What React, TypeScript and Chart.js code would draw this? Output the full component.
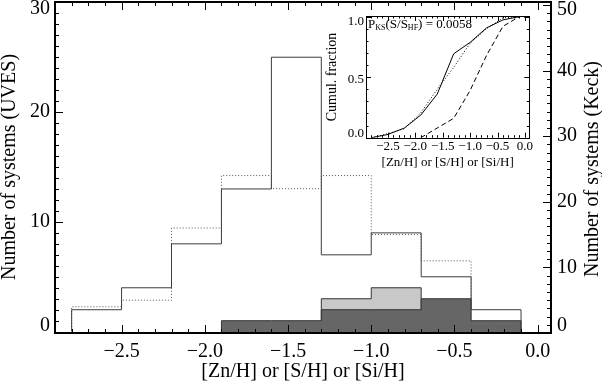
import React, { useEffect, useRef } from "react";
import { Chart, registerables } from "chart.js";
Chart.register(...registerables);

// ---- main histogram data ----
const binEdges = [-2.8, -2.5, -2.2, -1.9, -1.6, -1.3, -1.0, -0.7, -0.4, -0.1];
const uvesCounts = [2, 4, 8, 13, 25, 7, 9, 5, 2];
const keckCounts = [4, 5, 16, 24, 22, 24, 15, 11, 1];
const darkEdges = [-1.9, -1.6, -1.3, -1.0, -0.7, -0.4, -0.1];
const darkCounts = [1, 1, 2, 2, 3, 1];
const lightEdges = [-1.3, -1.0, -0.7];
const lightCounts = [3, 4];

// ---- tick labels ----
const xTickValues = [-2.5, -2.0, -1.5, -1.0, -0.5, 0.0];
const xTickLabels = ["−2.5", "−2.0", "−1.5", "−1.0", "−0.5", "0.0"];
const uvesTickValues = [0, 10, 20, 30];
const keckTickValues = [0, 10, 20, 30, 40, 50];
const insetYTickValues = [0, 0.5, 1.0];
const insetYTickLabels = ["0.0", "0.5", "1.0"];

// ---- inset cumulative fractions ----
const cumX = [-2.8, -2.5, -2.2, -1.9, -1.6, -1.3, -1.0, -0.7, -0.4, -0.1];
const cumUves = [0, 0.027, 0.08, 0.187, 0.36, 0.693, 0.787, 0.907, 0.973, 1.0];
const cumKeck = [0, 0.033, 0.074, 0.205, 0.4, 0.58, 0.78, 0.9, 0.99, 1.0];
const cumSubX = [-1.9, -1.6, -1.3, -1.0, -0.7, -0.4, -0.1];
const cumSub = [0, 0.08, 0.16, 0.39, 0.68, 0.92, 1.0];

const SERIF = '"Liberation Serif", "Times New Roman", serif';

function stepPoints(edges: number[], counts: number[]) {
  const pts = [{ x: edges[0], y: 0 }];
  counts.forEach((c, i) => pts.push({ x: edges[i], y: c }));
  pts.push({ x: edges[edges.length - 1], y: 0 });
  return pts;
}

function clamp(v: number, a: number, b: number) {
  return Math.max(a, Math.min(b, v));
}

const mainAxesPlugin = {
  id: "mainAxes",
  afterDraw(chart: any) {
    const ctx = chart.ctx;
    const { left, right, top, bottom } = chart.chartArea;
    const xs = chart.scales.x;
    const ys = chart.scales.y;
    const y2 = chart.scales.y2;
    ctx.save();
    ctx.strokeStyle = "#000";
    ctx.fillStyle = "#000";
    ctx.lineWidth = 1;
    ctx.beginPath();
    for (let k = -29; k <= 0; k++) {
      const px = Math.round(xs.getPixelForValue(k / 10)) + 0.5;
      const len = k % 5 === 0 ? 8 : 4;
      ctx.moveTo(px, bottom);
      ctx.lineTo(px, bottom - len);
      ctx.moveTo(px, top);
      ctx.lineTo(px, top + len);
    }
    for (let v = 0; v <= 30; v++) {
      const py = Math.round(ys.getPixelForValue(v)) + 0.5;
      const len = v % 10 === 0 ? 8 : 4;
      ctx.moveTo(left, py);
      ctx.lineTo(left + len, py);
    }
    for (let i = 0; i <= 40; i++) {
      const v = i * 1.25;
      const py = Math.round(y2.getPixelForValue(v)) + 0.5;
      const len = v % 10 === 0 ? 8 : 4;
      ctx.moveTo(right, py);
      ctx.lineTo(right - len, py);
    }
    ctx.stroke();
    ctx.lineWidth = 2;
    ctx.strokeRect(left, top, right - left, bottom - top);
    ctx.font = `20px ${SERIF}`;
    ctx.textBaseline = "middle";
    ctx.textAlign = "center";
    xTickValues.forEach((v, i) => {
      ctx.fillText(xTickLabels[i], xs.getPixelForValue(v), 352);
    });
    ctx.textAlign = "right";
    uvesTickValues.forEach((v) => {
      ctx.fillText(String(v), left - 5, clamp(ys.getPixelForValue(v), 9, 326));
    });
    ctx.textAlign = "left";
    keckTickValues.forEach((v) => {
      ctx.fillText(String(v), right + 6, clamp(y2.getPixelForValue(v), 10, 326));
    });
    ctx.textAlign = "center";
    ctx.fillText("[Zn/H] or [S/H] or [Si/H]", (left + right) / 2, 372);
    ctx.save();
    ctx.translate(10, 167);
    ctx.rotate(-Math.PI / 2);
    ctx.fillText("Number of systems (UVES)", 0, 0);
    ctx.restore();
    ctx.save();
    ctx.translate(593, 169);
    ctx.rotate(-Math.PI / 2);
    ctx.fillText("Number of systems (Keck)", 0, 0);
    ctx.restore();
    ctx.restore();
  },
};

const insetPlugin = {
  id: "insetAxes",
  beforeDraw(chart: any) {
    const ctx = chart.ctx;
    const { left, right, top, bottom } = chart.chartArea;
    ctx.save();
    ctx.fillStyle = "#fff";
    ctx.fillRect(left, top, right - left, bottom - top);
    ctx.restore();
  },
  afterDraw(chart: any) {
    const ctx = chart.ctx;
    const { left, right, top, bottom } = chart.chartArea;
    const xs = chart.scales.x;
    const ys = chart.scales.y;
    ctx.save();
    ctx.strokeStyle = "#000";
    ctx.fillStyle = "#000";
    ctx.lineWidth = 1;
    ctx.beginPath();
    for (let k = -29; k <= 0; k++) {
      const px = Math.round(xs.getPixelForValue(k / 10)) + 0.5;
      const len = k % 5 === 0 ? 5 : 2.5;
      ctx.moveTo(px, bottom);
      ctx.lineTo(px, bottom - len);
      ctx.moveTo(px, top);
      ctx.lineTo(px, top + len);
    }
    for (let k = 0; k <= 10; k++) {
      const py = Math.round(ys.getPixelForValue(k / 10)) + 0.5;
      const len = k % 5 === 0 ? 5 : 2.5;
      ctx.moveTo(left, py);
      ctx.lineTo(left + len, py);
      ctx.moveTo(right, py);
      ctx.lineTo(right - len, py);
    }
    ctx.stroke();
    ctx.strokeRect(Math.round(left) + 0.5, Math.round(top) + 0.5, Math.round(right - left), Math.round(bottom - top));

    ctx.font = `13px ${SERIF}`;
    ctx.textBaseline = "middle";
    ctx.textAlign = "center";
    xTickValues.forEach((v, i) => {
      ctx.fillText(xTickLabels[i], xs.getPixelForValue(v), 147);
    });
    ctx.textAlign = "right";
    insetYTickValues.forEach((v, i) => {
      ctx.fillText(insetYTickLabels[i], left - 2, clamp(ys.getPixelForValue(v) + 2, 22, 134));
    });
    ctx.textAlign = "center";
    ctx.fillText("[Zn/H] or [S/H] or [Si/H]", (left + right) / 2, 163);
    ctx.font = `14px ${SERIF}`;
    ctx.save();
    ctx.translate(32, 77);
    ctx.rotate(-Math.PI / 2);
    ctx.fillText("Cumul. fraction", 0, 0);
    ctx.restore();

    ctx.textBaseline = "alphabetic";
    ctx.textAlign = "left";
    let x = left + 2;
    const base = top + 12;
    const parts: [string, boolean][] = [
      ["P", false],
      ["KS", true],
      ["(S/S", false],
      ["HF", true],
      [") = 0.0058", false],
    ];
    parts.forEach(([t, sub]) => {
      ctx.font = sub ? `8px ${SERIF}` : `13px ${SERIF}`;
      ctx.fillText(t, x, sub ? base + 2 : base);
      x += ctx.measureText(t).width;
    });
    ctx.restore();
  },
};

export default function App() {
  const mainRef = useRef<HTMLCanvasElement>(null);
  const insetRef = useRef<HTMLCanvasElement>(null);

  useEffect(() => {
    document.body.style.margin = "0";
    const main = new Chart(mainRef.current as HTMLCanvasElement, {
      type: "line",
      data: {
        datasets: [
          {
            data: stepPoints(binEdges, uvesCounts),
            stepped: "before",
            borderColor: "#3c3c3c",
            borderWidth: 1,
            yAxisID: "y",
            fill: false,
          },
          {
            data: stepPoints(binEdges, keckCounts),
            stepped: "before",
            borderColor: "#555",
            borderWidth: 1,
            borderDash: [1, 2],
            yAxisID: "y2",
            fill: false,
          },
          {
            data: stepPoints(darkEdges, darkCounts),
            stepped: "before",
            borderColor: "#333",
            borderWidth: 1,
            backgroundColor: "#666666",
            yAxisID: "y",
            fill: "start",
          },
          {
            data: stepPoints(lightEdges, lightCounts),
            stepped: "before",
            borderColor: "#333",
            borderWidth: 1,
            backgroundColor: "#c8c8c8",
            yAxisID: "y",
            fill: "start",
          },
        ] as any,
      },
      options: {
        responsive: false,
        animation: false,
        devicePixelRatio: 1,
        layout: { padding: { left: 55, right: 51, top: 2, bottom: 49 } },
        plugins: { legend: { display: false }, tooltip: { enabled: false } },
        elements: { point: { radius: 0 }, line: { tension: 0 } },
        scales: {
          x: { type: "linear", min: -2.9, max: 0.08, display: false },
          y: { type: "linear", min: -0.12, max: 30.03, display: false },
          y2: { type: "linear", min: 0, max: 50.46, display: false },
        },
      } as any,
      plugins: [mainAxesPlugin],
    });

    const toPts = (xs: number[], ys: number[]) => xs.map((x, i) => ({ x, y: ys[i] }));
    const inset = new Chart(insetRef.current as HTMLCanvasElement, {
      type: "line",
      data: {
        datasets: [
          { data: toPts(cumX, cumUves), borderColor: "#000", borderWidth: 1 },
          { data: toPts(cumX, cumKeck), borderColor: "#000", borderWidth: 1, borderDash: [1, 2] },
          { data: toPts(cumSubX, cumSub), borderColor: "#000", borderWidth: 1, borderDash: [5, 3] },
        ] as any,
      },
      options: {
        responsive: false,
        animation: false,
        devicePixelRatio: 1,
        layout: { padding: { left: 66, right: 20.7, top: 16, bottom: 37.3 } },
        plugins: { legend: { display: false }, tooltip: { enabled: false } },
        elements: { point: { radius: 0 }, line: { tension: 0 } },
        scales: {
          x: { type: "linear", min: -2.9, max: 0.08, display: false },
          y: { type: "linear", min: 0, max: 1.005, display: false },
        },
      } as any,
      plugins: [insetPlugin],
    });

    return () => {
      main.destroy();
      inset.destroy();
    };
  }, []);

  return (
    <div style={{ position: "relative", width: 602, height: 382, background: "#fff" }}>
      <canvas ref={mainRef} width={602} height={382} style={{ position: "absolute", left: 0, top: 0, width: 602, height: 382 }} />
      <canvas ref={insetRef} width={250} height={175} style={{ position: "absolute", left: 300, top: 0, width: 250, height: 175 }} />
    </div>
  );
}
